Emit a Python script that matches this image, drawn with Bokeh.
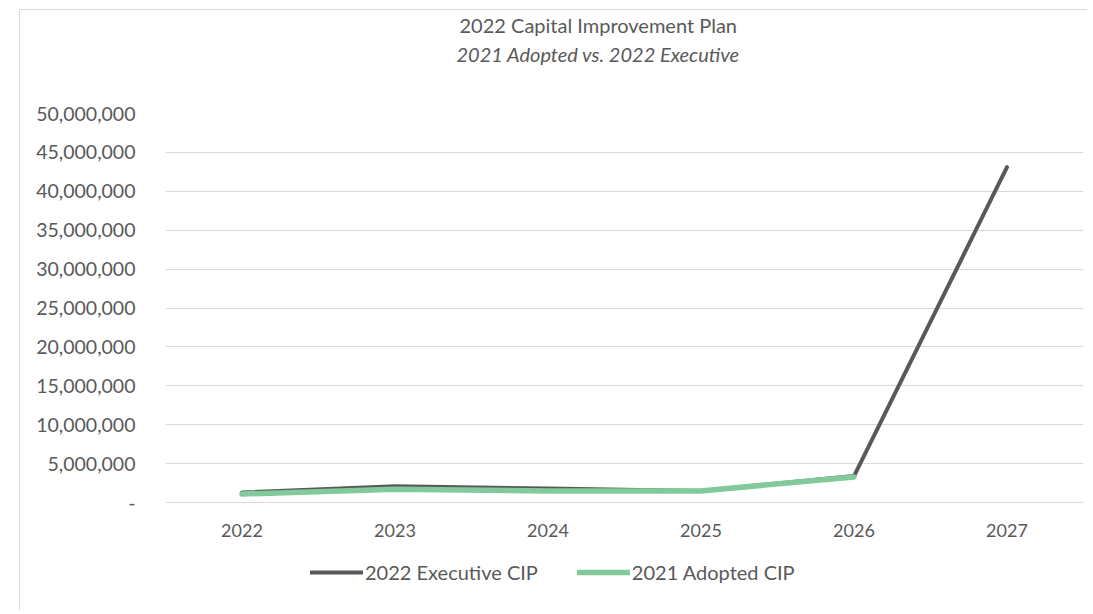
from bokeh.plotting import figure
from bokeh.models import (Range1d, FactorRange, FixedTicker, NumeralTickFormatter,
                          Legend, LegendItem, Title, ColumnDataSource)
from bokeh.embed import file_html
from bokeh.resources import INLINE

years = ["2022", "2023", "2024", "2025", "2026", "2027"]
executive_cip = [1.3e6, 2.1e6, 1.8e6, 1.5e6, 3.4e6, 43.1e6]
adopted_years = ["2022", "2023", "2024", "2025", "2026"]
adopted_cip = [1.1e6, 1.7e6, 1.5e6, 1.5e6, 3.3e6]
y_ticks = [0, 5e6, 10e6, 15e6, 20e6, 25e6, 30e6, 35e6, 40e6, 45e6, 50e6]

FONT = "Lato"
TXT = "#595959"
GRID = "#d9d9d9"

# frame extends below zero so the category labels and legend sit inside it
p = figure(x_range=FactorRange(*years, range_padding=0), y_range=Range1d(-13.1e6, 50e6),
           width=1070, height=600, frame_width=918, frame_height=491,
           min_border_left=145, min_border_right=4, min_border_top=103, min_border_bottom=6,
           output_backend="svg", toolbar_location=None, tools="")
p.styles = {"position": "absolute", "left": "19px", "top": "9px",
            "border-left": "1.5px solid #d9d9d9", "border-top": "1.5px solid #d9d9d9"}

p.outline_line_color = None
p.background_fill_color = "white"
p.border_fill_color = "white"

# titles: p.title is the outermost panel; added titles stack outward from the frame
p.title.text = "2022 Capital Improvement Plan"
p.title.text_font = FONT
p.title.text_font_style = "normal"
p.title.text_font_size = "20px"
p.title.text_color = TXT
p.title.align = "left"
p.title.offset = 294
p.title.standoff = 0
spacer = Title(text="\u00a0", standoff=42, text_font_size="1px")
p.add_layout(spacer, "above")
sub = Title(text="2021 Adopted vs. 2022 Executive", text_font=FONT, text_font_style="italic",
            text_font_size="20px", text_color=TXT, align="left", offset=291, standoff=6)
p.add_layout(sub, "above")

# axes
p.yaxis.ticker = FixedTicker(ticks=y_ticks)
p.yaxis.formatter = NumeralTickFormatter(format="0,0")
p.yaxis.major_label_overrides = {0: "-"}
p.yaxis.axis_line_color = None
p.yaxis.major_tick_line_color = None
p.yaxis.minor_tick_line_color = None
p.yaxis.major_label_standoff = 24
p.yaxis.major_label_text_font = FONT
p.yaxis.major_label_text_font_size = "19.5px"
p.yaxis.major_label_text_color = TXT

p.xaxis.fixed_location = 0
p.xaxis.axis_line_color = GRID
p.xaxis.axis_line_width = 1
p.xaxis.major_tick_line_color = None
p.xaxis.minor_tick_line_color = None
p.xaxis.major_label_standoff = 15
p.xaxis.major_label_text_font = FONT
p.xaxis.major_label_text_font_size = "18px"
p.xaxis.major_label_text_color = TXT

p.xgrid.grid_line_color = None
p.ygrid.grid_line_color = GRID
p.ygrid.grid_line_width = 1

ex_src = ColumnDataSource(data=dict(x=years, y=executive_cip))
ad_src = ColumnDataSource(data=dict(x=adopted_years, y=adopted_cip))
r_ex = p.line("x", "y", source=ex_src, line_color="#595959", line_width=4,
              line_join="round", line_cap="round")
r_ad = p.line("x", "y", source=ad_src, line_color="#82C99B", line_width=5.5,
              line_join="round", line_cap="round")

legend = Legend(items=[LegendItem(label="2022 Executive CIP", renderers=[r_ex]),
                       LegendItem(label="2021 Adopted CIP", renderers=[r_ad])],
                orientation="horizontal", location=(145, 20),
                glyph_width=53, glyph_height=24, label_height=24, label_standoff=2,
                spacing=39, padding=0, margin=0,
                label_text_font=FONT, label_text_font_size="20px", label_text_color=TXT,
                border_line_color=None, background_fill_alpha=0)
p.add_layout(legend)

open("out.html", "w").write(file_html(p, INLINE))
